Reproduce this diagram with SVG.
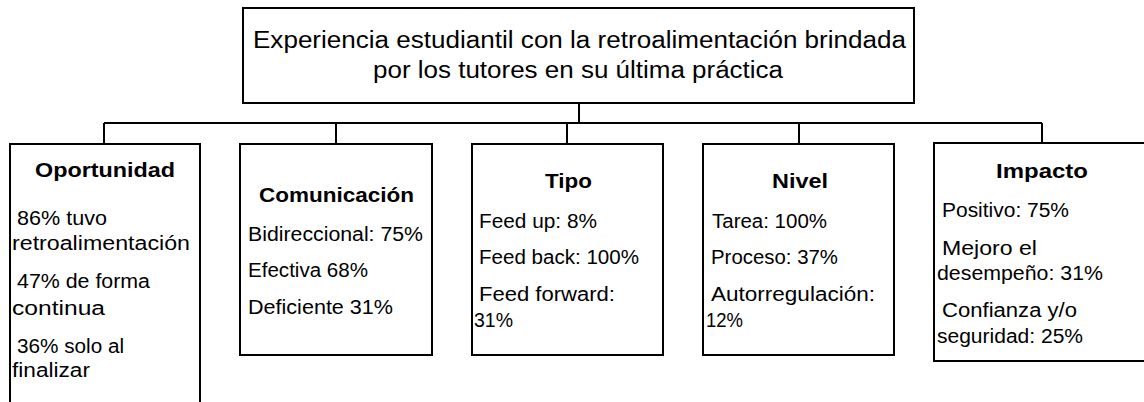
<svg xmlns="http://www.w3.org/2000/svg" width="1144" height="402" viewBox="0 0 1144 402">
<style>
.box{fill:#fff;stroke:#000;stroke-width:2}
.con{fill:none;stroke:#000;stroke-width:2}
.t{font-family:"Liberation Sans",Arial,sans-serif;fill:#000}
.title{font-size:23.5px}
.h{font-size:20.5px;font-weight:bold}
.b{font-size:20px}
</style>
<rect width="1144" height="402" fill="#fff"/>
<g id="connectors">
<path class="con" d="M579 103V123M104 123H1042M104 123V144M336 123V144M567 123V144M799 123V144M1042 123V144"/>
</g>
<g id="root">
<rect class="box" x="243" y="8" width="671" height="95"/>
<text class="t title" x="253" y="48" textLength="653" lengthAdjust="spacingAndGlyphs">Experiencia estudiantil con la retroalimentación brindada</text>
<text class="t title" x="373" y="78" textLength="410" lengthAdjust="spacingAndGlyphs">por los tutores en su última práctica</text>
</g>
<g id="oportunidad">
<rect class="box" x="10" y="144" width="190" height="270"/>
<text class="t h" x="35" y="177" textLength="140" lengthAdjust="spacingAndGlyphs">Oportunidad</text>
<text class="t b" x="17" y="225" textLength="90" lengthAdjust="spacingAndGlyphs">86% tuvo</text>
<text class="t b" x="12" y="250" textLength="178" lengthAdjust="spacingAndGlyphs">retroalimentación</text>
<text class="t b" x="17" y="288" textLength="133" lengthAdjust="spacingAndGlyphs">47% de forma</text>
<text class="t b" x="12" y="315" textLength="93" lengthAdjust="spacingAndGlyphs">continua</text>
<text class="t b" x="17" y="353" textLength="107" lengthAdjust="spacingAndGlyphs">36% solo al</text>
<text class="t b" x="12" y="377" textLength="78" lengthAdjust="spacingAndGlyphs">finalizar</text>
</g>
<g id="comunicacion">
<rect class="box" x="240" y="144" width="192" height="211"/>
<text class="t h" x="259" y="202" textLength="155" lengthAdjust="spacingAndGlyphs">Comunicación</text>
<text class="t b" x="248" y="241" textLength="175" lengthAdjust="spacingAndGlyphs">Bidireccional: 75%</text>
<text class="t b" x="248" y="277" textLength="120" lengthAdjust="spacingAndGlyphs">Efectiva 68%</text>
<text class="t b" x="248" y="314" textLength="145" lengthAdjust="spacingAndGlyphs">Deficiente 31%</text>
</g>
<g id="tipo">
<rect class="box" x="472" y="144" width="191" height="211"/>
<text class="t h" x="545" y="188" textLength="47" lengthAdjust="spacingAndGlyphs">Tipo</text>
<text class="t b" x="479" y="228" textLength="118" lengthAdjust="spacingAndGlyphs">Feed up: 8%</text>
<text class="t b" x="479" y="264" textLength="160" lengthAdjust="spacingAndGlyphs">Feed back: 100%</text>
<text class="t b" x="479" y="301" textLength="136" lengthAdjust="spacingAndGlyphs">Feed forward:</text>
<text class="t b" x="474" y="327" textLength="39" lengthAdjust="spacingAndGlyphs">31%</text>
</g>
<g id="nivel">
<rect class="box" x="703" y="144" width="191" height="211"/>
<text class="t h" x="772" y="188" textLength="56" lengthAdjust="spacingAndGlyphs">Nivel</text>
<text class="t b" x="712" y="228" textLength="115" lengthAdjust="spacingAndGlyphs">Tarea: 100%</text>
<text class="t b" x="711" y="264" textLength="127" lengthAdjust="spacingAndGlyphs">Proceso: 37%</text>
<text class="t b" x="711" y="301" textLength="164" lengthAdjust="spacingAndGlyphs">Autorregulación:</text>
<text class="t b" x="706" y="327" textLength="37" lengthAdjust="spacingAndGlyphs">12%</text>
</g>
<g id="impacto">
<rect class="box" x="934" y="143" width="220" height="218"/>
<text class="t h" x="996" y="178" textLength="92" lengthAdjust="spacingAndGlyphs">Impacto</text>
<text class="t b" x="942" y="217" textLength="127" lengthAdjust="spacingAndGlyphs">Positivo: 75%</text>
<text class="t b" x="942" y="255" textLength="95" lengthAdjust="spacingAndGlyphs">Mejoro el</text>
<text class="t b" x="937" y="280" textLength="166" lengthAdjust="spacingAndGlyphs">desempeño: 31%</text>
<text class="t b" x="942" y="317" textLength="135" lengthAdjust="spacingAndGlyphs">Confianza y/o</text>
<text class="t b" x="937" y="343" textLength="146" lengthAdjust="spacingAndGlyphs">seguridad: 25%</text>
</g>
</svg>
